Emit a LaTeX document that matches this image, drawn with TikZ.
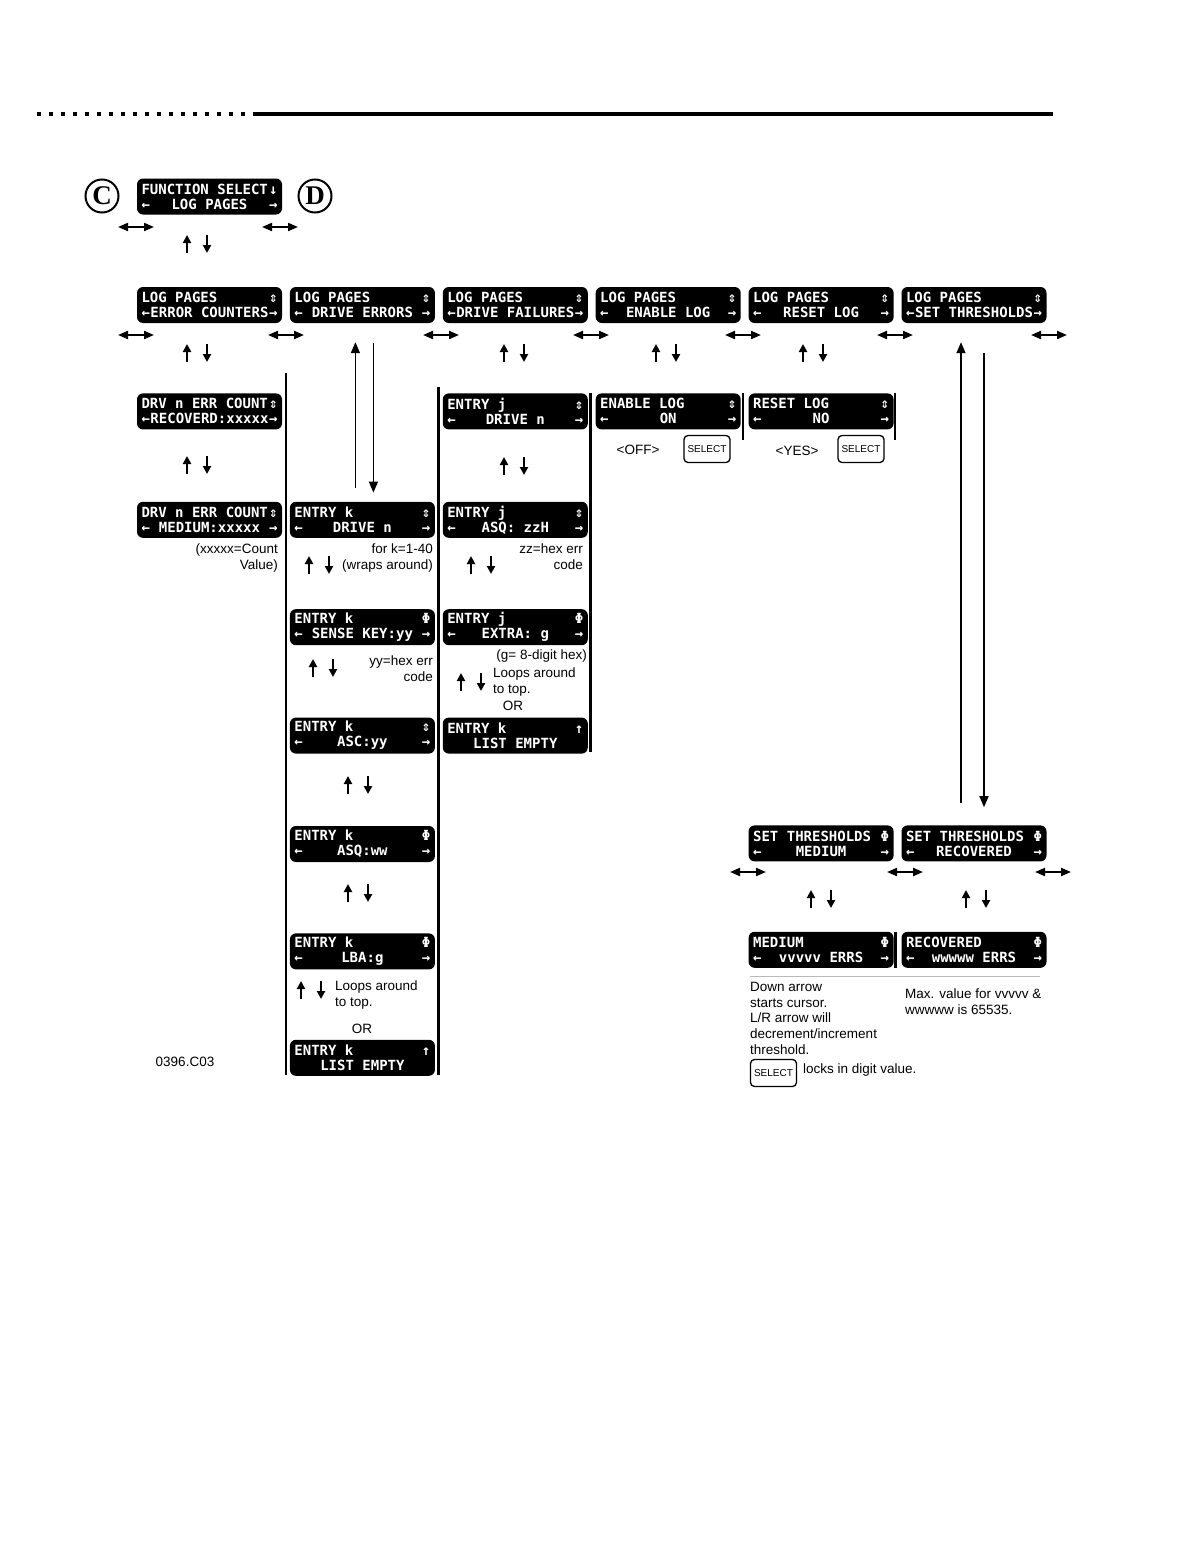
\documentclass[tikz,border=0pt]{standalone}
\usepackage{fontspec}
\setmainfont{Liberation Sans}
\newfontfamily\lcdfont{DejaVu Sans Mono}
\newfontfamily\circfont{Liberation Serif}
\usetikzlibrary{arrows.meta,positioning,calc}

% two-line display text: top line, top symbol, middle of bottom line
\newcommand{\lcdtext}[3]{#1\hfill#2\\←\hfill#3\hfill→}

\begin{document}
\begin{tikzpicture}[x=1pt,y=-1pt,font=\fontsize{13.5}{15.7}\selectfont,
  lcd/.style={fill=black,rounded corners=6pt,text=white,align=left,
    text width=136pt,inner xsep=4.5pt,inner ysep=2pt,minimum height=36pt,
    font=\lcdfont\bfseries\fontsize{14}{15}\selectfont,
    execute at begin node={\spaceskip=8.43pt\relax\xspaceskip=8.43pt\relax}},
  sel/.style={draw,rounded corners=4pt,line width=1.3pt,minimum width=46pt,
    minimum height=27pt,inner sep=1pt,font=\fontsize{10}{10}\selectfont},
  circ/.style={draw,circle,line width=2pt,minimum size=33pt,inner sep=0pt,
    font=\circfont\bfseries\fontsize{27}{27}\selectfont},
  note/.style={inner sep=0pt},
  lar/.style={-{Triangle[length=11pt,width=9pt]},line width=1.5pt},
  rule/.style={line width=2.5pt},
  lrarrows/.pic={\draw[{Triangle[length=10pt,width=8pt]}-{Triangle[length=10pt,width=8pt]},
    line width=2pt] (-18,0) -- (18,0);},
  udarrows/.pic={\draw[-{Triangle[length=8pt,width=8pt]},line width=2pt] (-10,9) -- (-10,-9);
    \draw[-{Triangle[length=8pt,width=8pt]},line width=2pt] (10,-9) -- (10,9);}]
\useasboundingbox (0,0) rectangle (1192,1568);
% --- page header rule ---
\draw[line width=4pt,dash pattern=on 4pt off 8pt] (37,114) -- (250,114);
\draw[line width=4pt] (253,114) -- (1053,114);
% --- function select ---
\node[circ] (c) at (102,196) {C};
\node[lcd] (fs) at (209.5,196.5) {\lcdtext{FUNCTION SELECT}{↓}{LOG PAGES}};
\node[circ] (d) at (315,196) {D};
\pic at (136,227) {lrarrows};
\pic at (280,227) {lrarrows};
\pic at (197,244) {udarrows};
% --- log pages row ---
\node[lcd] (ec) at (209.5,305) {\lcdtext{LOG PAGES}{⇕}{ERROR COUNTERS}};
\node[lcd,right=7.5pt of ec] (de) {\lcdtext{LOG PAGES}{⇕}{DRIVE ERRORS}};
\node[lcd,right=7.5pt of de] (df) {\lcdtext{LOG PAGES}{⇕}{DRIVE FAILURES}};
\node[lcd,right=7.5pt of df] (el) {\lcdtext{LOG PAGES}{⇕}{ENABLE LOG}};
\node[lcd,right=7.5pt of el] (rl) {\lcdtext{LOG PAGES}{⇕}{RESET LOG}};
\node[lcd,right=7.5pt of rl] (st) {\lcdtext{LOG PAGES}{⇕}{SET THRESHOLDS}};
\foreach \x in {136,286,441,591,743,895,1049} \pic at (\x,335) {lrarrows};
\foreach \x in {197,514,666,813} \pic at (\x,353) {udarrows};
% --- error counters ---
\node[lcd,below=70pt of ec] (ec1) {\lcdtext{DRV n ERR COUNT}{⇕}{RECOVERD:xxxxx}};
\node[lcd,below=72pt of ec1] (ec2) {\lcdtext{DRV n ERR COUNT}{⇕}{MEDIUM:xxxxx}};
\pic at (197,465) {udarrows};
\node[note,align=right,anchor=north east] (cnt) at (278,544) {(xxxxx=Count\\Value)};
% --- drive errors ---
\node[lcd,right=7.5pt of ec2] (de1) {\lcdtext{ENTRY k}{⇕}{DRIVE n}};
\node[lcd,below=71pt of de1] (de2) {\lcdtext{ENTRY k}{Φ}{SENSE KEY:yy}};
\node[lcd,below=72pt of de2] (de3) {\lcdtext{ENTRY k}{⇕}{ASC:yy}};
\node[lcd,below=72pt of de3] (de4) {\lcdtext{ENTRY k}{Φ}{ASQ:ww}};
\node[lcd,below=71pt of de4] (de5) {\lcdtext{ENTRY k}{Φ}{LBA:g}};
\node[lcd,below=70pt of de5] (de6) {ENTRY k\hfill↑\\\hspace*{\fill}LIST EMPTY\hspace*{\fill}};
\draw[lar,shorten <=14pt,shorten >=19pt] ([xshift=-7pt]de1.north) -- ([xshift=-7pt]de.south);
\draw[lar,shorten <=20pt,shorten >=9pt] ([xshift=11pt]de.south) -- ([xshift=11pt]de1.north);
\node[note,align=right,anchor=north east] (wrap) at (433,544) {for k=1-40\\(wraps around)};
\pic at (319,565) {udarrows};
\node[note,align=right,anchor=north east] (yy) at (433,656) {yy=hex err\\code};
\pic at (323,668) {udarrows};
\pic at (358,785) {udarrows};
\pic at (358,893) {udarrows};
\pic at (311,990) {udarrows};
\node[note,align=left,anchor=north west] (loop2) at (335,981) {Loops around\\to top.};
\node[note] (or2) at (362,1029) {OR};
% --- drive failures ---
\node[lcd,below=70pt of df] (df1) {\lcdtext{ENTRY j}{⇕}{DRIVE n}};
\node[lcd,below=72pt of df1] (df2) {\lcdtext{ENTRY j}{⇕}{ASQ: zzH}};
\node[lcd,below=71pt of df2] (df3) {\lcdtext{ENTRY j}{Φ}{EXTRA: g}};
\node[lcd,below=72pt of df3] (df4) {ENTRY k\hfill↑\\\hspace*{\fill}LIST EMPTY\hspace*{\fill}};
\pic at (514,466) {udarrows};
\node[note,align=right,anchor=north east] (zz) at (583,544) {zz=hex err\\code};
\pic at (481,565) {udarrows};
\node[note,anchor=north east] (g8) at (587,650) {(g= 8-digit hex)};
\pic at (471,682) {udarrows};
\node[note,align=left,anchor=north west] (loop1) at (493,668) {Loops around\\to top.};
\node[note] (or1) at (513,706) {OR};
% --- enable / reset log ---
\node[lcd,below=70pt of el] (el1) {\lcdtext{ENABLE LOG}{⇕}{ON}};
\node[note] (off) at (638,450) {<OFF>};
\node[sel] (sel1) at (707,449) {SELECT};
\node[lcd,below=70pt of rl] (rl1) {\lcdtext{RESET LOG}{⇕}{NO}};
\node[note] (yes) at (797,451) {<YES>};
\node[sel] (sel2) at (861,449) {SELECT};
% --- column dividers ---
\draw[rule] (286,373) -- (286,1075);
\draw[rule] (438.5,387) -- (438.5,1075);
\draw[rule] (590.5,393) -- (590.5,752);
\draw[rule] (743,393) -- (743,440);
\draw[rule] (895,393) -- (895,440);
% --- set thresholds ---
\node[lcd,below=502pt of rl] (st1) {\lcdtext{SET THRESHOLDS}{Φ}{MEDIUM}};
\node[lcd,right=7.5pt of st1] (st2) {\lcdtext{SET THRESHOLDS}{Φ}{RECOVERED}};
\draw[lar,shorten <=22pt,shorten >=19pt] ([xshift=-13pt]st2.north) -- ([xshift=-13pt]st.south);
\draw[lar,shorten <=30pt,shorten >=18pt] ([xshift=10pt]st.south) -- ([xshift=10pt]st2.north);
\foreach \x in {748,905,1053} \pic at (\x,872) {lrarrows};
\pic at (821,899) {udarrows};
\pic at (976,899) {udarrows};
\node[lcd,below=70pt of st1] (st3) {\lcdtext{MEDIUM}{Φ}{vvvvv ERRS}};
\node[lcd,right=7.5pt of st3] (st4) {\lcdtext{RECOVERED}{Φ}{wwwww ERRS}};
\draw[rule] (895.5,932) -- (895.5,968);
\draw[gray!55,line width=1pt] (750,976) -- (1040,976);
\node[note,align=left,anchor=north west] (down) at (750,982)
  {Down arrow\\starts cursor.\\L/R arrow will\\decrement/increment\\threshold.};
\node[sel] (sel3) at (773.5,1073) {SELECT};
\node[note,anchor=west] (lock) at (803,1070) {locks in digit value.};
\node[note,align=left,anchor=north west] (max) at (905,989) {Max. value for vvvvv \&\\wwwww is 65535.};
\node[note] (fig) at (185,1062) {0396.C03};
\end{tikzpicture}
\end{document}
